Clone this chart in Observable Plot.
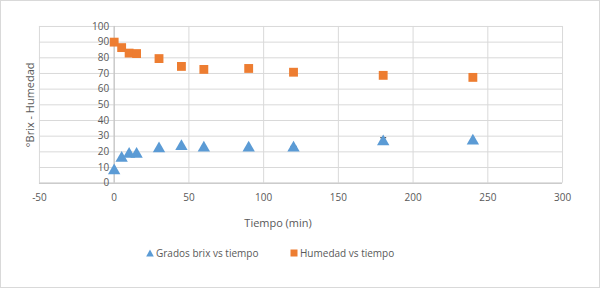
<!DOCTYPE html>
<html>
<head>
<meta charset="utf-8">
<script src="https://cdn.jsdelivr.net/npm/d3@7"></script>
<script src="https://cdn.jsdelivr.net/npm/@observablehq/plot@0.6"></script>
<style>
  html, body { margin: 0; padding: 0; background: #fff; }
  #wrap { position: relative; width: 600px; height: 288px; box-sizing: border-box; border: 1px solid #d9d9d9; font-family: "Open Sans", sans-serif; color: #595959; overflow: hidden; }
  #chart { position: absolute; left: -1px; top: -1px; }
  #legend { position: absolute; top: 245px; left: 0; width: 600px; font-size: 10px; color: #595959; }
  .item { position: absolute; display: flex; align-items: center; white-space: nowrap; }
</style>
</head>
<body>
<div id="wrap">
  <div id="chart"></div>
  <div id="legend"></div>
</div>
<script>
const tiempo = [0, 5, 10, 15, 30, 45, 60, 90, 120, 180, 240];
const brix = [8, 16, 18.5, 18.5, 22, 23.5, 22.5, 22.5, 22.5, 26.5, 27];
const humedad = [90, 86.5, 83, 82.7, 79.5, 74.5, 72.6, 73.2, 70.8, 68.8, 67.5];
const brixErr = [0, 0, 0, 0, 0, 0, 0, 0, 1, 2.5, 0];
const humedadErr = [0, 0, 0, 0, 0, 2.5, 0, 0, 0, 0, 0];
const xTicks = [-50, 0, 50, 100, 150, 200, 250, 300];
const yTicks = [0, 10, 20, 30, 40, 50, 60, 70, 80, 90, 100];
const seriesNames = ["Grados brix vs tiempo", "Humedad vs tiempo"];
const colors = ["#5B9BD5", "#ED7D31"];
const xTitle = "Tiempo (min)";
const yTitle = "°Brix - Humedad";

const brixData = tiempo.map((t, i) => ({t, v: brix[i], e: brixErr[i]}));
const humData = tiempo.map((t, i) => ({t, v: humedad[i], e: humedadErr[i]}));
const errData = [...brixData, ...humData].filter(d => d.e > 0);

const plot = Plot.plot({
  width: 600,
  height: 236,
  marginLeft: 39,
  marginRight: 37,
  marginTop: 26,
  marginBottom: 53,
  style: {fontFamily: "Open Sans, sans-serif", fontSize: "10px", color: "#595959", background: "transparent"},
  x: {domain: [-50, 300], ticks: xTicks, axis: null},
  y: {domain: [0, 100], ticks: yTicks, axis: null},
  marks: [
    Plot.gridX(xTicks, {stroke: "#d9d9d9", strokeOpacity: 1}),
    Plot.gridY(yTicks, {stroke: "#d9d9d9", strokeOpacity: 1}),
    Plot.ruleX([0], {stroke: "#bfbfbf"}),
    Plot.ruleY([0], {stroke: "#bfbfbf"}),
    Plot.axisX(xTicks, {tickSize: 0, tickPadding: 11, label: null, fill: "#595959", tickFormat: d => String(d)}),
    Plot.text(yTicks, {x: () => 0, y: d => d, text: d => String(d), textAnchor: "end", dx: -5, fill: "#595959"}),
    Plot.text([yTitle], {frameAnchor: "left", textAnchor: "middle", rotate: -90, dx: -9, fill: "#595959", fontSize: 11}),
    Plot.text([xTitle], {frameAnchor: "bottom", textAnchor: "middle", dx: -23, dy: 44, fill: "#595959", fontSize: 11}),
    Plot.ruleX(errData, {x: "t", y1: "v", y2: d => d.v + d.e, stroke: "#333", strokeWidth: 1}),
    Plot.link(errData, {x1: d => d.t - 2, x2: d => d.t + 2, y1: d => d.v + d.e, y2: d => d.v + d.e, stroke: "#333", strokeWidth: 1}),
    Plot.dot(humData, {x: "t", y: "v", symbol: "square", r: 5, fill: colors[1], stroke: "none"}),
    Plot.dot(brixData, {x: "t", y: "v", symbol: "triangle", r: 4.6, fill: colors[0], stroke: "none"})
  ]
});
document.getElementById("chart").appendChild(plot);

const legend = document.getElementById("legend");
const positions = [145, 289];
const shapes = [
  '<svg width="8" height="8"><path d="M4,0.5L7.8,7.5H0.2Z" fill="' + colors[0] + '"/></svg>',
  '<svg width="8" height="8"><rect x="0.5" y="0.5" width="7" height="7" fill="' + colors[1] + '"/></svg>'
];
seriesNames.forEach((name, i) => {
  const el = document.createElement("div");
  el.className = "item";
  el.style.left = positions[i] + "px";
  el.innerHTML = shapes[i] + '<span style="margin-left:2px">' + name + '</span>';
  legend.appendChild(el);
});
</script>
</body>
</html>
